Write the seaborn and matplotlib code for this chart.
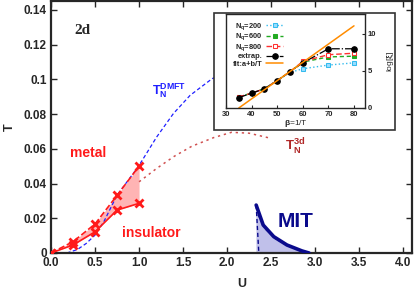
import numpy as np
import pandas as pd
import seaborn as sns
import matplotlib
matplotlib.use("Agg")
import matplotlib.pyplot as plt
from matplotlib.patches import Rectangle

# --- main panel data ---
dmft_u = [0.18, 0.3, 0.4, 0.5, 0.6, 0.75, 0.99, 1.2, 1.39, 1.58, 1.83, 1.88]
dmft_t = [0.0, 0.002, 0.0055, 0.0103, 0.018, 0.0333, 0.0496, 0.0668, 0.0803, 0.0908, 0.1004, 0.1015]

tn3d_u = [1.0, 1.2, 1.4, 1.6, 1.85, 2.05, 2.25, 2.5]
tn3d_t = [0.041, 0.0487, 0.0557, 0.0615, 0.0665, 0.0695, 0.069, 0.066]

metal_u = [0.0, 0.25, 0.5, 0.75, 1.0]
metal_up = [0.0, 0.0065, 0.0167, 0.0332, 0.050]
metal_lo = [0.0, 0.0046, 0.0122, 0.0247, 0.0286]

mit_u = [2.33, 2.41, 2.53, 2.68, 2.85, 2.93]
mit_t = [0.0276, 0.0161, 0.0094, 0.0046, 0.0012, 0.0]
mit_inner_u = [2.35, 2.44, 2.55, 2.7, 2.86]
mit_inner_t = [0.022, 0.0135, 0.0082, 0.0038, 0.001]
mit_left_u = [2.33, 2.36]
mit_left_t = [0.0276, 0.0]

# --- inset data ---
beta = [35, 40, 45, 50, 55, 60, 70, 80]
nq200 = [1.5, 2.0, 2.6, 3.7, 4.8, 5.3, 5.8, 6.1]
nq600 = [1.5, 2.0, 2.6, 3.7, 4.9, 6.2, 6.9, 7.0]
nq800 = [1.5, 2.0, 2.6, 3.7, 4.9, 6.3, 7.2, 7.4]
extrap = [1.4, 2.0, 2.6, 3.7, 4.9, 6.1, 8.0, 8.0]
fit_beta = [35, 80]
fit_val = [0.0, 11.1]

sns.set_style("ticks")
plt.rcParams["font.family"] = ["Liberation Sans", "DejaVu Sans"]
plt.rcParams["font.weight"] = "bold"
plt.rcParams["mathtext.fontset"] = "custom"
plt.rcParams["mathtext.bf"] = "Liberation Sans:bold"
plt.rcParams["mathtext.rm"] = "Liberation Sans:bold"

fig = plt.figure(figsize=(4.15, 2.91), dpi=100)
ax = fig.add_axes([0.1229, 0.1306, 0.8699, 0.8664])

red = "#ff1a1a"
navy = "#0a0a8c"

# metal / insulator coexistence
ax.fill_between(metal_u, metal_lo, metal_up, color="#ffb4b4", lw=0, zorder=1)
sns.lineplot(x=metal_u, y=metal_up, ax=ax, color=red, linestyle="--", lw=1.2,
             marker="x", markersize=6, markeredgewidth=2, markeredgecolor=red,
             sort=False, zorder=3)
sns.lineplot(x=metal_u, y=metal_lo, ax=ax, color=red, linestyle="-", lw=1.2,
             marker="x", markersize=6, markeredgewidth=2, markeredgecolor=red,
             sort=False, zorder=3)

# Neel temperatures
sns.lineplot(x=dmft_u, y=dmft_t, ax=ax, color="#1f1fff", linestyle=(0, (3, 2)),
             lw=0.9, sort=False, zorder=2)
sns.lineplot(x=tn3d_u, y=tn3d_t, ax=ax, color="#d05050", linestyle=(0, (1.5, 2.5)),
             lw=1.1, sort=False, zorder=2)

# MIT region
ax.fill_between(mit_u, mit_t, color="#c0c0ea", lw=0, zorder=1)
ax.fill_between(mit_left_u, mit_left_t, color="#c0c0ea", lw=0, zorder=1)
sns.lineplot(x=mit_u, y=mit_t, ax=ax, color=navy, lw=2.6, sort=False, zorder=3)
sns.lineplot(x=mit_inner_u, y=mit_inner_t, ax=ax, color=navy, lw=0.8,
             linestyle=(0, (3, 2)), sort=False, zorder=3)
sns.lineplot(x=mit_left_u, y=mit_left_t, ax=ax, color=navy, lw=1.0,
             linestyle=(0, (3, 2)), sort=False, zorder=3)

ax.set_xlim(0, 4.1)
ax.set_ylim(0, 0.1452)
ax.set_xticks(np.arange(0, 4.01, 0.5))
ax.set_xticklabels([f"{v:.1f}" for v in np.arange(0, 4.01, 0.5)])
ax.set_yticks([0, 0.02, 0.04, 0.06, 0.08, 0.1, 0.12, 0.14])
ax.set_yticklabels(["0", "0.02", "0.04", "0.06", "0.08", "0.1", "0.12", "0.14"])
ax.tick_params(direction="in", length=4, width=1, labelsize=8.5, top=True, right=True, pad=3)
for s in ax.spines.values():
    s.set_linewidth(1.6)
ax.set_xlabel("")
ax.set_ylabel("")
fig.text(242 / 415, 1 - 284 / 291, "U", fontsize=9, fontweight="bold", ha="center", va="center")
fig.text(10 / 415, 1 - 127 / 291, "T", fontsize=9, fontweight="bold", ha="center", va="center",
         rotation=90)

ax.text(0.26, 0.1264, "2d", family="Liberation Serif", fontsize=11, fontweight="bold")
ax.text(0.216, 0.055, "metal", color=red, fontsize=10, fontweight="bold")
ax.text(0.81, 0.0092, "insulator", color=red, fontsize=10, fontweight="bold")
ax.text(2.57, 0.015, "MIT", color=navy, fontsize=15, fontweight="bold")
ax.text(1.15, 0.0915, r"$\mathbf{T_N^{DMFT}}$", color="#1f1fff", fontsize=9)
ax.text(2.66, 0.059, r"$\mathbf{T_N^{3d}}$", color="#b02828", fontsize=9.5)

# inset frame
fig.patches.append(Rectangle((0.5157, 0.5533), 0.436, 0.402, transform=fig.transFigure,
                             facecolor="white", edgecolor="#333333", lw=1.2, zorder=5))

axin = fig.add_axes([0.5446, 0.6289, 0.3349, 0.323], zorder=6)
sns.lineplot(x=beta, y=nq200, ax=axin, color="#33bbee", linestyle=":", lw=1,
             marker="s", markersize=3, markerfacecolor="#99ddff", markeredgecolor="#33bbee",
             label=r"N$_\mathrm{q}$=200")
sns.lineplot(x=beta, y=nq600, ax=axin, color="#22aa22", linestyle=(0, (3, 2)), lw=1,
             marker="s", markersize=2.5, markeredgecolor="#22aa22", label=r"N$_\mathrm{q}$=600")
sns.lineplot(x=beta, y=nq800, ax=axin, color="#ff3030", linestyle=(0, (4, 2)), lw=1,
             marker="s", markersize=3.5, markerfacecolor="white", markeredgecolor="#ff3030",
             label=r"N$_\mathrm{q}$=800")
sns.lineplot(x=beta, y=extrap, ax=axin, color="black", linestyle="-.", lw=0.9,
             marker="o", markersize=4, markeredgecolor="black", label="extrap.")
sns.lineplot(x=fit_beta, y=fit_val, ax=axin, color="#ff8c00", lw=1.1, label="fit:a+b/T")

axin.set_xlim(30, 84.3)
axin.set_ylim(0, 12.7)
axin.set_xticks([30, 40, 50, 60, 70, 80])
axin.set_yticks([0, 5, 10])
axin.yaxis.tick_right()
axin.yaxis.set_label_position("right")
axin.tick_params(direction="in", length=2.5, width=0.8, labelsize=5.5, pad=2)
axin.tick_params(axis="y", left=False, right=True)
for s in axin.spines.values():
    s.set_linewidth(1.0)
axin.set_xlabel(r"$\mathrm{\beta}$=1/T", fontsize=6, labelpad=0)
axin.set_ylabel(r"log[$\mathrm{\xi}$]", fontsize=6, labelpad=6, rotation=90)

leg = axin.legend(loc="upper left", markerfirst=False, frameon=False, fontsize=5.4,
                  handlelength=2.2, handletextpad=0.5, labelspacing=0.0,
                  borderaxespad=0.5, alignment="right")

fig.savefig("out.png", dpi=100)
